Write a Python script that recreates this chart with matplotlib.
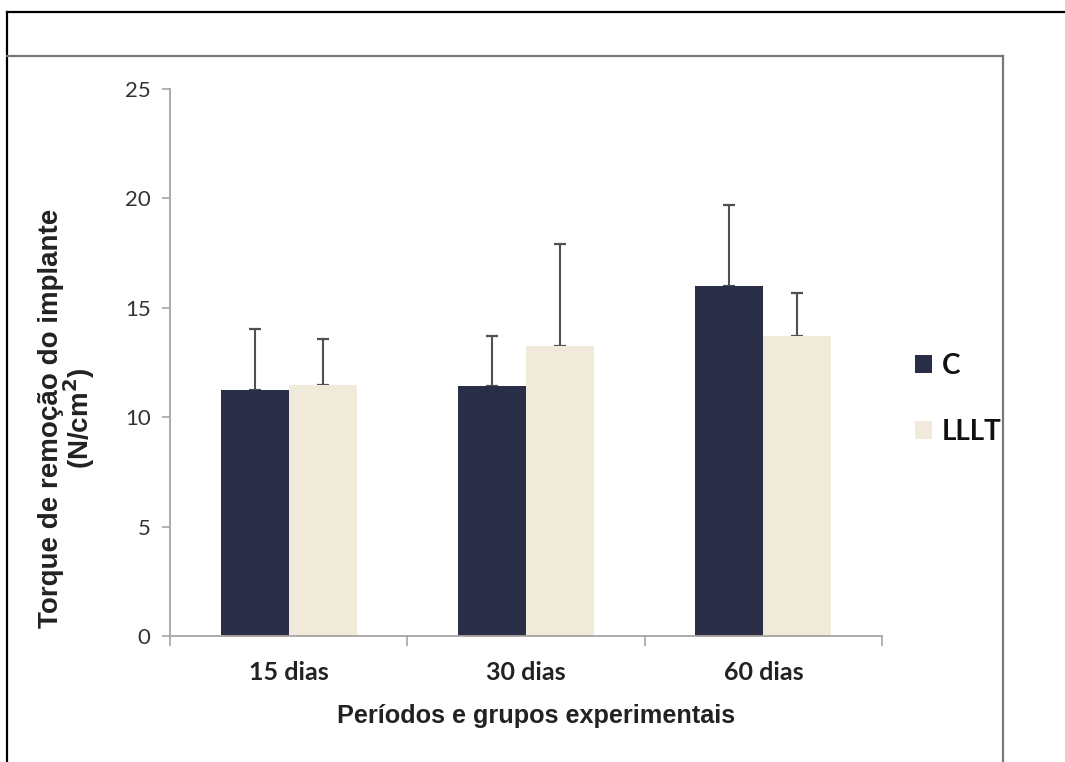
import matplotlib
matplotlib.use("Agg")
import matplotlib.pyplot as plt
import numpy as np
from matplotlib.lines import Line2D

categories = ["15 dias", "30 dias", "60 dias"]
series_names = ["C", "LLLT"]
c_means = [11.24, 11.43, 16.0]
c_err = [2.78, 2.26, 3.7]
lllt_means = [11.47, 13.27, 13.72]
lllt_err = [2.09, 4.63, 1.94]
yticks = [0, 5, 10, 15, 20, 25]

W, H = 1065, 762
fig = plt.figure(figsize=(W / 100, H / 100), dpi=100)
fig.patch.set_facecolor("white")

ax = fig.add_axes([170 / W, 1 - 636 / H, (882 - 170) / W, (636 - 89) / H])
ax.set_facecolor("white")

x = np.arange(len(categories)) + 0.5
bw = 0.287
col_c = "#292d45"
col_l = "#f0eadb"
ecol = "#505050"
ax.bar(x - bw / 2, c_means, bw, color=col_c, label=series_names[0], zorder=2)
ax.bar(x + bw / 2, lllt_means, bw, color=col_l, label=series_names[1], zorder=2)
ax.errorbar(x - bw / 2, c_means, yerr=[np.zeros(3), c_err], fmt="none",
            ecolor=ecol, elinewidth=1.5, capsize=4.3, capthick=1.6, zorder=1)
ax.errorbar(x + bw / 2, lllt_means, yerr=[np.zeros(3), lllt_err], fmt="none",
            ecolor=ecol, elinewidth=1.5, capsize=4.3, capthick=1.6, zorder=1)

ax.set_xlim(0, 3)
ax.set_ylim(0, 25)
ax.set_yticks(yticks)
ax.set_yticklabels([str(v) for v in yticks], fontfamily="Lato", fontsize=16, color="#333333")
ax.set_xticks(x)
ax.set_xticklabels(categories, fontfamily="Lato", fontweight="bold", fontsize=18, color="#222222")
ax.set_xticks([0, 1, 2, 3], minor=True)
ax.tick_params(axis="x", which="major", length=0, pad=18)
ax.tick_params(axis="x", which="minor", length=7, width=1.2, color="#a9a3a3", direction="out")
ax.tick_params(axis="y", length=6, width=1.2, color="#a9a3a3", direction="out", pad=8)
for s in ["top", "right"]:
    ax.spines[s].set_visible(False)
for s in ["left", "bottom"]:
    ax.spines[s].set_color("#a9a3a3")
    ax.spines[s].set_linewidth(1.3)

fig.text(51 / W, 1 - 418 / H, "Torque de remoção do implante", rotation=90,
         ha="center", va="center", fontfamily="Liberation Sans", fontweight="bold",
         fontsize=20, color="#222222")
fig.text(79 / W, 1 - 418 / H, "(N/cm$^\\mathbf{2}$)", rotation=90,
         ha="center", va="center", fontfamily="Liberation Sans", fontweight="bold",
         fontsize=20, color="#222222")
fig.text(536 / W, 1 - 716 / H, "Períodos e grupos experimentais",
         ha="center", va="center", fontfamily="Liberation Sans", fontweight="bold",
         fontsize=18.2, color="#222222")

leg = fig.legend(loc="upper left", bbox_to_anchor=(915 / W, 1 - 353 / H), frameon=False,
                 prop={"family": "Lato", "weight": "bold", "size": 20},
                 handlelength=0.62, handleheight=0.62, handletextpad=0.33,
                 labelspacing=1.45, borderaxespad=0, borderpad=0)
for t in leg.get_texts():
    t.set_color("#111111")

# frame lines
fig.add_artist(Line2D([7 / W, 1], [1 - 12 / H, 1 - 12 / H], color="black", lw=1.6))
fig.add_artist(Line2D([7 / W, 7 / W], [0, 1 - 12 / H], color="black", lw=1.6))
fig.add_artist(Line2D([7 / W, 1003 / W], [1 - 56 / H, 1 - 56 / H], color="#777777", lw=1.6))
fig.add_artist(Line2D([1003 / W, 1003 / W], [0, 1 - 56 / H], color="#777777", lw=1.6))

fig.savefig("out.png", dpi=100)
